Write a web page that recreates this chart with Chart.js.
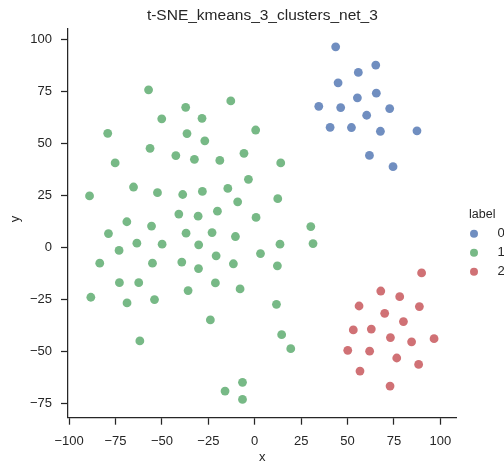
<!DOCTYPE html>
<html>
<head>
<meta charset="utf-8">
<title>t-SNE kmeans</title>
<script src="https://cdn.jsdelivr.net/npm/chart.js@4/dist/chart.umd.min.js"></script>
<style>
  body { margin: 0; background: #fff; }
  #wrap { width: 504px; height: 466px; }
</style>
</head>
<body>
<div id="wrap"><canvas id="tsne" width="504" height="466"></canvas></div>
<script>
// t-SNE embedding, one [x, y] pair per sample, grouped by kmeans label
const cluster0 = [
  [43.6, 96.4], [65.2, 87.6], [55.8, 84.1], [44.9, 79.1], [55.3, 71.9], [65.5, 74.1],
  [34.5, 67.8], [46.3, 67.2], [60.3, 63.5], [72.7, 66.7], [40.6, 57.7], [52.1, 57.6],
  [67.7, 55.8], [87.4, 56.0], [61.8, 44.2], [74.5, 38.8]
];
const cluster1 = [
  [-57.2, 75.7], [-37.2, 67.3], [-50.1, 61.8], [-28.4, 62.0], [-79.2, 54.8], [-36.5, 54.7],
  [-56.4, 47.6], [-42.5, 44.1], [-32.5, 42.3], [-75.2, 40.6], [-65.3, 29.0], [-52.4, 26.3],
  [-38.8, 25.4], [-89.0, 24.7], [-40.9, 16.0], [-68.9, 12.3], [-55.6, 10.2], [-12.9, 70.4],
  [-26.9, 51.2], [0.5, 56.4], [-18.8, 41.8], [-5.8, 45.2], [14.0, 40.6], [-3.4, 32.7],
  [-14.5, 28.3], [-28.2, 26.9], [-9.2, 21.9], [12.4, 23.4], [-30.5, 15.0], [-20.1, 17.4],
  [0.7, 14.4], [30.2, 10.0], [-78.8, 6.6], [-37.0, 6.8], [-63.5, 2.0], [-49.9, 1.5],
  [-73.1, -1.5], [-83.5, -7.6], [-55.1, -7.6], [-39.3, -7.1], [-72.9, -17.0], [-62.5, -17.0],
  [-35.9, -20.8], [-88.3, -24.0], [-68.8, -26.7], [-54.0, -25.1], [-61.9, -45.0], [-23.0, 7.1],
  [-10.4, 5.2], [-30.2, 1.2], [13.6, 1.5], [31.4, 1.8], [3.1, -3.0], [-20.8, -4.1],
  [-30.3, -10.2], [-11.5, -7.9], [12.2, -8.9], [-21.2, -17.1], [-7.9, -20.0], [11.7, -27.4],
  [-23.9, -34.9], [14.5, -42.0], [19.4, -48.7], [-6.6, -64.9], [-16.0, -69.1], [-6.6, -73.1]
];
const cluster2 = [
  [89.9, -12.3], [67.9, -21.0], [78.1, -23.7], [56.2, -28.2], [88.7, -28.5], [70.0, -31.7],
  [80.1, -35.7], [53.1, -39.7], [62.8, -39.3], [73.1, -43.4], [84.5, -45.4], [96.6, -43.9],
  [50.1, -49.5], [61.9, -49.9], [76.5, -53.2], [88.3, -56.3], [56.7, -59.5], [72.9, -66.7]
];

const labels = ['0', '1', '2'];
const colors = ['#708ec0', '#77b986', '#d07175'];
const xTicks = [-100, -75, -50, -25, 0, 25, 50, 75, 100];
const yTicks = [-75, -50, -25, 0, 25, 50, 75, 100];

const ink = '#262626';
const fontFamily = '"Liberation Sans", Arial, sans-serif';

function minus(v) {
  return v < 0 ? '\u2212' + Math.abs(v) : String(v);
}

// title, axis names and the "label" legend sit outside the plot box
const decorations = {
  id: 'decorations',
  afterDraw(chart) {
    const ctx = chart.ctx;
    const area = chart.chartArea;
    const cx = (area.left + area.right) / 2;
    ctx.save();
    ctx.fillStyle = ink;
    ctx.textBaseline = 'middle';

    ctx.textAlign = 'center';
    ctx.font = '15.5px ' + fontFamily;
    ctx.fillText('t-SNE_kmeans_3_clusters_net_3', cx, 16);

    ctx.font = '13px ' + fontFamily;
    ctx.fillText('x', cx, 457.5);
    ctx.save();
    ctx.translate(15, (area.top + area.bottom) / 2 - 4);
    ctx.rotate(-Math.PI / 2);
    ctx.fillText('y', 0, 0);
    ctx.restore();

    ctx.textAlign = 'left';
    ctx.font = '12.5px ' + fontFamily;
    ctx.fillText('label', 469, 215);
    labels.forEach((lab, i) => {
      const y = 233.7 + i * 19;
      ctx.fillStyle = colors[i];
      ctx.beginPath();
      ctx.arc(474, y, 4, 0, Math.PI * 2);
      ctx.fill();
      ctx.fillStyle = ink;
      ctx.font = '13px ' + fontFamily;
      ctx.fillText(lab, 497.5, y);
    });
    ctx.restore();
  }
};

function axisStyle(tickValues, padding) {
  return {
    type: 'linear',
    afterBuildTicks: s => { s.ticks = tickValues.map(v => ({ value: v })); },
    ticks: {
      color: ink,
      padding: padding,
      font: { family: fontFamily, size: 13 },
      callback: v => minus(v)
    },
    grid: {
      display: true,
      drawOnChartArea: false,
      drawTicks: true,
      tickLength: 7,
      tickWidth: 1.25,
      tickColor: ink
    },
    border: { display: true, color: ink, width: 1.25 }
  };
}

const xAxis = axisStyle(xTicks, 8.5);
xAxis.position = 'bottom';
xAxis.min = -100.6;
xAxis.max = 108.8;
xAxis.afterFit = s => { s.height = 48.3; };

const yAxis = axisStyle(yTicks, 9);
yAxis.position = 'left';
yAxis.min = -81.9;
yAxis.max = 105.3;
yAxis.afterFit = s => { s.width = 68; };

const clusters = [cluster0, cluster1, cluster2];

new Chart(document.getElementById('tsne').getContext('2d'), {
  type: 'scatter',
  data: {
    datasets: clusters.map((pts, i) => ({
      label: labels[i],
      data: pts.map(p => ({ x: p[0], y: p[1] })),
      backgroundColor: colors[i],
      borderWidth: 0,
      pointRadius: 4.4,
      pointHoverRadius: 4.4
    }))
  },
  options: {
    responsive: false,
    animation: false,
    layout: { padding: { top: 28.3, right: 47.3, left: 0, bottom: 0 } },
    scales: { x: xAxis, y: yAxis },
    plugins: {
      legend: { display: false },
      tooltip: { enabled: false },
      title: { display: false }
    }
  },
  plugins: [decorations]
});
</script>
</body>
</html>
